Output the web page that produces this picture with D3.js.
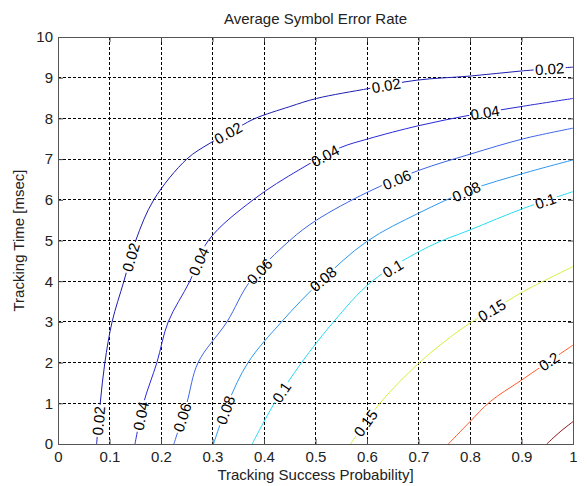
<!DOCTYPE html>
<html>
<head>
<meta charset="utf-8">
<script src="https://cdn.jsdelivr.net/npm/d3@7"></script>
<style>
  body { margin: 0; background: #fff; }
  text { font-family: "Liberation Sans", Arial, sans-serif; }
</style>
</head>
<body>
<div id="chart"></div>
<script>
// axis ticks
const xTicks = [0, 0.1, 0.2, 0.3, 0.4, 0.5, 0.6, 0.7, 0.8, 0.9, 1];
const xTickLabels = ['0', '0.1', '0.2', '0.3', '0.4', '0.5', '0.6', '0.7', '0.8', '0.9', '1'];
const yTicks = [0, 1, 2, 3, 4, 5, 6, 7, 8, 9, 10];
const yTickLabels = ['0', '1', '2', '3', '4', '5', '6', '7', '8', '9', '10'];

// contour levels and jet-ish colours
const levels = ['0.02', '0.04', '0.06', '0.08', '0.1', '0.15', '0.2', '0.25'];
const levelColors = ['#1c1cb0', '#2828d8', '#3c64e6', '#2c96f0', '#28dcf0', '#d4f03c', '#ff5a28', '#8c1414'];

// contour lines as [probability, time] pairs
const contour002 = [[0.075, 0], [0.082, 1], [0.091, 2], [0.105, 3], [0.128, 4], [0.151, 5],
  [0.186, 6], [0.25, 7], [0.295, 7.39], [0.353, 7.8], [0.383, 8], [0.45, 8.29], [0.502, 8.49],
  [0.606, 8.74], [0.697, 8.94], [0.8, 9.04], [0.904, 9.17], [1.0, 9.26]];
const contour004 = [[0.1495, 0], [0.166, 1], [0.192, 2], [0.214, 3], [0.256, 4], [0.292, 5],
  [0.379, 6], [0.47, 6.75], [0.548, 7.28], [0.603, 7.5], [0.7, 7.82], [0.8, 8.08], [0.904, 8.3], [1.0, 8.49]];
const contour006 = [[0.225, 0], [0.25, 1], [0.272, 2], [0.328, 3], [0.373, 4], [0.45, 5.0],
  [0.502, 5.5], [0.6, 6.18], [0.7, 6.72], [0.8, 7.12], [0.904, 7.5], [1.0, 7.76]];
const contour008 = [[0.302, 0], [0.33, 1], [0.369, 2], [0.434, 3], [0.51, 4], [0.6, 4.98],
  [0.7, 5.67], [0.8, 6.24], [0.904, 6.65], [1.0, 6.98]];
const contour010 = [[0.377, 0], [0.42, 1], [0.473, 2], [0.535, 3], [0.61, 4], [0.72, 4.85],
  [0.8, 5.26], [0.904, 5.79], [1.0, 6.2]];
const contour015 = [[0.568, 0], [0.625, 1.0], [0.7, 1.98], [0.755, 2.56], [0.8, 2.97], [0.871, 3.5],
  [0.904, 3.75], [1.0, 4.36]];
const contour020 = [[0.758, 0], [0.8, 0.55], [0.839, 1.04], [0.9, 1.57], [1.0, 2.43]];
const contour025 = [[0.949, 0], [0.975, 0.3], [1.0, 0.55]];

// where the inline labels sit
const labels002 = [[0.078, 0.57], [0.138, 4.6], [0.328, 7.69], [0.637, 8.82], [0.955, 9.16]];
const labels004 = [[0.161, 0.69], [0.276, 4.47], [0.52, 7.05], [0.829, 8.16]];
const labels006 = [[0.245, 0.64], [0.392, 4.23], [0.658, 6.49]];
const labels008 = [[0.33, 0.81], [0.515, 4.05], [0.794, 6.17]];
const labels010 = [[0.433, 1.28], [0.654, 4.23], [0.948, 5.92]];
const labels015 = [[0.6, 0.49], [0.843, 3.27]];
const labels020 = [[0.953, 2.04]];
const labels025 = [];

const contourLines = [contour002, contour004, contour006, contour008, contour010, contour015, contour020, contour025];
const contourLabels = [labels002, labels004, labels006, labels008, labels010, labels015, labels020, labels025];

function contourChart() {

  let margin = { top: 37, left: 58, right: 14, bottom: 42 },
    width = 587 - margin.left - margin.right,
    height = 486 - margin.top - margin.bottom;

  function chart(selector) {
    let svg = d3.select(selector)
      .append('svg')
      .attr('width', 587)
      .attr('height', 486);

    let x = d3.scaleLinear().domain([0, 1]).range([0, width]);
    let y = d3.scaleLinear().domain([0, 10]).range([height, 0]);

    let g = svg.append('g')
      .attr('transform', 'translate(' + margin.left + ',' + margin.top + ')');

    // dashed grid, inner ticks only
    g.append('g').selectAll('line')
      .data(xTicks.slice(1, -1))
      .enter().append('line')
      .attr('x1', d => x(d)).attr('x2', d => x(d))
      .attr('y1', 0).attr('y2', height);
    g.append('g').selectAll('line')
      .data(yTicks.slice(1, -1))
      .enter().append('line')
      .attr('x1', 0).attr('x2', width)
      .attr('y1', d => y(d)).attr('y2', d => y(d));
    g.selectAll('line')
      .attr('stroke', '#000')
      .attr('stroke-width', 1)
      .attr('stroke-dasharray', '3,2')
      .attr('shape-rendering', 'crispEdges');

    // mask to cut the lines where the labels go
    let mask = svg.append('defs').append('mask')
      .attr('id', 'gaps')
      .attr('maskUnits', 'userSpaceOnUse')
      .attr('x', -margin.left).attr('y', -margin.top)
      .attr('width', 587).attr('height', 486);
    mask.append('rect')
      .attr('x', -margin.left).attr('y', -margin.top)
      .attr('width', 587).attr('height', 486)
      .attr('fill', '#fff');

    let line = d3.line()
      .x(d => x(d[0]))
      .y(d => y(d[1]))
      .curve(d3.curveCatmullRom.alpha(0.5));

    let lines = g.append('g').attr('mask', 'url(#gaps)');
    let labelLayer = g.append('g');

    contourLines.forEach(function (pts, k) {
      lines.append('path')
        .attr('d', line(pts))
        .attr('fill', 'none')
        .attr('stroke', levelColors[k])
        .attr('stroke-width', 1);

      contourLabels[k].forEach(function (lp) {
        let s = snap(pts, lp, x, y);
        let t = labelLayer.append('text')
          .attr('transform', 'translate(' + s.x + ',' + s.y + ') rotate(' + s.angle + ')')
          .attr('text-anchor', 'middle')
          .attr('dy', '0.36em')
          .attr('font-size', '15px')
          .attr('fill', '#000')
          .text(levels[k]);
        let w = t.node().getComputedTextLength() + 3;
        mask.append('rect')
          .attr('x', -w / 2).attr('y', -6)
          .attr('width', w).attr('height', 12)
          .attr('transform', 'translate(' + s.x + ',' + s.y + ') rotate(' + s.angle + ')')
          .attr('fill', '#000');
      });
    });

    // axes with small inward ticks
    g.append('g')
      .attr('transform', 'translate(0,' + height + ')')
      .call(d3.axisBottom(x).tickValues(xTicks).tickFormat((d, i) => xTickLabels[i])
        .tickSizeInner(-5).tickSizeOuter(0).tickPadding(7));
    g.append('g')
      .call(d3.axisLeft(y).tickValues(yTicks).tickFormat((d, i) => yTickLabels[i])
        .tickSizeInner(-5).tickSizeOuter(0).tickPadding(5));
    g.append('g')
      .call(d3.axisTop(x).tickValues(xTicks).tickFormat('').tickSizeInner(-5).tickSizeOuter(0));
    g.append('g')
      .attr('transform', 'translate(' + width + ',0)')
      .call(d3.axisRight(y).tickValues(yTicks).tickFormat('').tickSizeInner(-5).tickSizeOuter(0));

    g.selectAll('.domain').remove();
    g.selectAll('.tick line').attr('stroke', '#444');
    g.selectAll('.tick text')
      .attr('font-size', '15px')
      .attr('font-family', '"Liberation Sans", Arial, sans-serif')
      .attr('fill', '#222');

    // box round the axes
    g.append('rect')
      .attr('x', 0).attr('y', 0)
      .attr('width', width).attr('height', height)
      .attr('fill', 'none')
      .attr('stroke', '#555')
      .attr('stroke-width', 1)
      .attr('shape-rendering', 'crispEdges');

    // title and axis labels
    svg.append('text')
      .attr('x', margin.left + width / 2)
      .attr('y', 24)
      .attr('text-anchor', 'middle')
      .attr('font-size', '15px')
      .attr('fill', '#222')
      .text('Average Symbol Error Rate');

    svg.append('text')
      .attr('x', margin.left + width / 2)
      .attr('y', 480)
      .attr('text-anchor', 'middle')
      .attr('font-size', '15px')
      .attr('fill', '#222')
      .text('Tracking Success Probability]');

    svg.append('text')
      .attr('transform', 'translate(24,' + (margin.top + height / 2) + ') rotate(-90)')
      .attr('text-anchor', 'middle')
      .attr('font-size', '15px')
      .attr('fill', '#222')
      .text('Tracking Time [msec]');
  }

  // put a label point onto the nearest segment and get the slope angle
  function snap(pts, p, x, y) {
    let px = x(p[0]), py = y(p[1]);
    let best = null;
    for (let i = 0; i < pts.length - 1; i++) {
      let ax = x(pts[i][0]), ay = y(pts[i][1]);
      let bx = x(pts[i + 1][0]), by = y(pts[i + 1][1]);
      let dx = bx - ax, dy = by - ay;
      let t = ((px - ax) * dx + (py - ay) * dy) / (dx * dx + dy * dy);
      t = Math.max(0, Math.min(1, t));
      let cx = ax + t * dx, cy = ay + t * dy;
      let dist = (cx - px) * (cx - px) + (cy - py) * (cy - py);
      if (!best || dist < best.dist) {
        let a = Math.atan2(dy, dx) * 180 / Math.PI;
        if (a > 90) a -= 180;
        if (a < -90) a += 180;
        best = { x: cx, y: cy, angle: a, dist: dist };
      }
    }
    return best;
  }

  return chart;
}

let myChart = contourChart();
myChart('#chart');
</script>
</body>
</html>
